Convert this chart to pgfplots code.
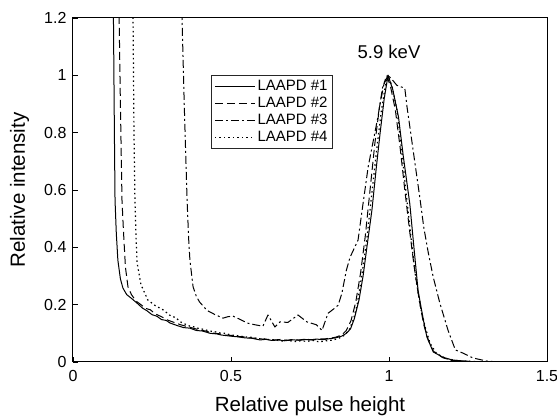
\documentclass[border=0pt]{standalone}
\usepackage{pgfplots}
\pgfplotsset{compat=1.18}
\usepackage{fontspec}
\setmainfont{Liberation Sans}
\begin{document}
\begin{tikzpicture}
\begin{axis}[
  scale only axis, width=474pt, height=344pt,
  xmin=0, xmax=1.5, ymin=0, ymax=1.2,
  xtick={0,0.5,1,1.5}, ytick={0,0.2,0.4,0.6,0.8,1,1.2},
  tick align=inside, xtick pos=bottom, ytick pos=left,
  major tick length=5pt,
  axis line style={line width=1pt}, tick style={line width=0.8pt, black},
  ticklabel style={font=\fontsize{16}{18}\selectfont},
  xticklabel style={yshift=-5pt},
  yticklabel style={xshift=-3pt},
  /pgf/number format/assume math mode=true,
  xlabel={Relative pulse height}, ylabel={Relative intensity},
  label style={font=\fontsize{20.5}{22}\selectfont},
  xlabel style={at={(axis description cs:0.5,-0.1453)}, anchor=base},
  ylabel style={at={(axis description cs:-0.1013,0.5)}, anchor=base},
  legend style={at={(rel axis cs:0.291,0.834)}, anchor=north west,
    font=\fontsize{15}{17}\selectfont,
    nodes={font=\fontsize{15}{17}\selectfont},
    draw=black!85, line width=0.8pt,
    inner sep=3pt, row sep=1pt, cells={anchor=west}},
  legend image code/.code={\draw[#1] (0pt,0pt) -- (40pt,0pt);},
  every axis plot/.append style={black, line width=1pt, line join=round},
]
\addplot[solid] coordinates {
(0.125,1.5)(0.128,1.2)(0.131,0.8)(0.133,0.565)(0.137,0.45)(0.142,0.355)(0.150,0.29)
(0.158,0.258)(0.17,0.235)(0.185,0.222)(0.203,0.205)(0.22,0.188)(0.235,0.178)(0.25,0.165)
(0.265,0.16)(0.28,0.148)(0.295,0.145)(0.307,0.136)(0.33,0.127)(0.35,0.12)(0.37,0.118)
(0.39,0.11)(0.41,0.108)(0.434,0.10)(0.455,0.098)(0.47,0.094)(0.5,0.09)(0.52,0.088)
(0.545,0.084)(0.565,0.083)(0.592,0.077)(0.61,0.079)(0.63,0.075)(0.65,0.077)(0.67,0.074)
(0.69,0.078)(0.71,0.076)(0.73,0.079)(0.75,0.077)(0.77,0.08)(0.79,0.078)(0.81,0.081)
(0.83,0.084)(0.85,0.09)(0.865,0.1)(0.878,0.115)(0.89,0.15)(0.905,0.216)(0.918,0.3)
(0.93,0.4)(0.946,0.53)(0.96,0.68)(0.972,0.8)(0.985,0.92)(0.997,1.0)(1.012,0.95)
(1.03,0.855)(1.045,0.72)(1.066,0.55)(1.078,0.41)(1.092,0.25)(1.1,0.2)(1.11,0.14)
(1.12,0.087)(1.14,0.035)(1.17,0.017)(1.2,0.007)(1.25,0.002)(1.3,0)(1.5,0)
};
\addlegendentry{LAAPD \#1}
\addplot[dash pattern=on 8pt off 4pt] coordinates {
(0.144,1.5)(0.146,1.2)(0.15,0.9)(0.155,0.565)(0.16,0.45)(0.166,0.33)(0.174,0.262)
(0.185,0.235)(0.2,0.212)(0.215,0.2)(0.23,0.187)(0.245,0.182)(0.26,0.168)(0.28,0.158)
(0.3,0.146)(0.32,0.138)(0.34,0.13)(0.36,0.124)(0.38,0.118)(0.4,0.112)(0.42,0.108)
(0.44,0.101)(0.46,0.099)(0.48,0.094)(0.5,0.093)(0.52,0.089)(0.54,0.088)(0.56,0.084)
(0.58,0.083)(0.6,0.08)(0.62,0.079)(0.64,0.077)(0.66,0.079)(0.68,0.075)(0.7,0.078)
(0.72,0.076)(0.74,0.079)(0.76,0.077)(0.78,0.08)(0.8,0.081)(0.83,0.086)(0.85,0.094)
(0.865,0.11)(0.88,0.145)(0.895,0.21)(0.91,0.31)(0.925,0.44)(0.94,0.6)(0.955,0.76)
(0.97,0.89)(0.985,0.975)(0.993,1.0)(1.005,0.96)(1.02,0.88)(1.035,0.75)(1.05,0.6)
(1.065,0.46)(1.08,0.33)(1.095,0.22)(1.11,0.13)(1.125,0.075)(1.14,0.038)(1.17,0.015)
(1.2,0.005)(1.3,0)(1.5,0)
};
\addlegendentry{LAAPD \#2}
\addplot[dash pattern=on 8pt off 3pt on 2pt off 3pt] coordinates {
(0.344,1.5)(0.345,1.2)(0.352,0.9)(0.361,0.565)(0.366,0.43)(0.37,0.355)(0.38,0.262)
(0.39,0.23)(0.40,0.21)(0.412,0.195)(0.424,0.18)(0.45,0.165)(0.475,0.153)(0.49,0.158)
(0.506,0.16)(0.53,0.148)(0.551,0.136)(0.575,0.13)(0.601,0.125)(0.617,0.164)(0.639,0.122)
(0.655,0.14)(0.68,0.138)(0.712,0.164)(0.74,0.14)(0.77,0.13)(0.788,0.11)(0.807,0.17)
(0.825,0.185)(0.839,0.198)(0.851,0.24)(0.865,0.32)(0.877,0.366)(0.902,0.425)(0.915,0.53)
(0.934,0.68)(0.965,0.855)(0.98,0.96)(0.997,1.0)(1.01,0.985)(1.025,0.965)(1.05,0.955)
(1.057,0.89)(1.066,0.82)(1.08,0.71)(1.098,0.57)(1.11,0.47)(1.124,0.383)(1.14,0.296)
(1.161,0.205)(1.187,0.11)(1.21,0.042)(1.234,0.031)(1.266,0.014)(1.31,0.003)(1.35,0)
(1.5,0)
};
\addlegendentry{LAAPD \#3}
\addplot[dash pattern=on 1.5pt off 3pt, line width=1.2pt] coordinates {
(0.188,1.5)(0.19,1.2)(0.193,0.8)(0.196,0.565)(0.2,0.42)(0.203,0.345)(0.215,0.27)
(0.237,0.216)(0.26,0.197)(0.285,0.182)(0.31,0.16)(0.325,0.155)(0.34,0.14)(0.355,0.132)
(0.37,0.125)(0.385,0.122)(0.4,0.116)(0.415,0.114)(0.43,0.108)(0.445,0.107)(0.46,0.102)
(0.48,0.1)(0.5,0.094)(0.52,0.092)(0.54,0.088)(0.56,0.087)(0.58,0.082)(0.6,0.081)
(0.62,0.078)(0.64,0.077)(0.66,0.073)(0.68,0.076)(0.7,0.071)(0.72,0.074)(0.74,0.072)
(0.76,0.075)(0.78,0.07)(0.8,0.074)(0.82,0.076)(0.84,0.082)(0.86,0.094)(0.875,0.115)
(0.888,0.15)(0.9,0.205)(0.915,0.31)(0.93,0.43)(0.945,0.58)(0.96,0.73)(0.975,0.87)
(0.988,0.96)(0.997,1.0)(1.01,0.96)(1.025,0.88)(1.04,0.74)(1.055,0.58)(1.07,0.43)
(1.085,0.29)(1.1,0.19)(1.115,0.12)(1.13,0.065)(1.15,0.03)(1.18,0.012)(1.22,0.004)
(1.3,0)(1.5,0)
};
\addlegendentry{LAAPD \#4}
\node[font=\fontsize{18.5}{20}\selectfont, anchor=base] at (axis cs:1.0,1.06) {5.9 keV};
\end{axis}
\pgfresetboundingbox
\path[use as bounding box] (current axis.south west) ++(-73pt,-57pt) rectangle ++(557pt,419pt);
\end{tikzpicture}
\end{document}
